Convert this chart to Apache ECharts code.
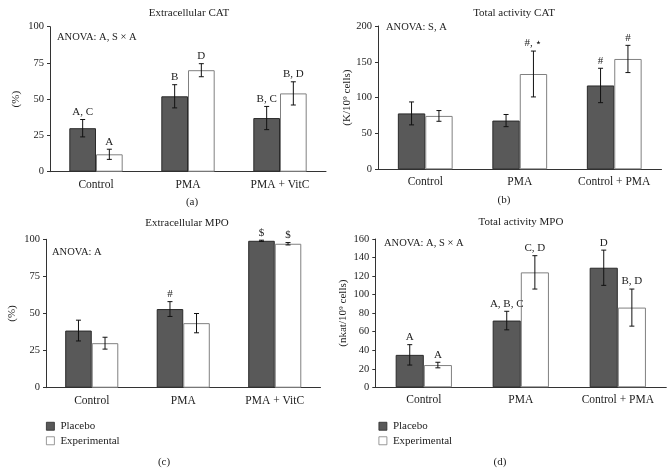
<!DOCTYPE html>
<html><head><meta charset="utf-8">
<script src="https://cdn.jsdelivr.net/npm/echarts@6/dist/echarts.min.js"></script>
<style>html,body{margin:0;padding:0;background:#fff}#c{width:672px;height:473px}</style>
</head><body><div id="c"></div>
<script>
// ---- data ----
const catsA = ['Control', 'PMA', 'PMA + VitC'];
const placeboA = [30, 52, 37];
const placeboErrA = [6, 8, 8];
const placeboLblA = ['A, C', 'B', 'B, C'];
const expA = [12, 70, 54];
const expErrA = [3.5, 4.5, 8];
const expLblA = ['A', 'D', 'B, D'];

const catsB = ['Control', 'PMA', 'Control + PMA'];
const placeboB = [78, 68, 117];
const placeboErrB = [16, 8.5, 24];
const placeboLblB = ['', '', '#'];
const expB = [74.5, 133, 154];
const expErrB = [7.5, 32, 19];
const expLblB = ['', '#, \u22C6', '#'];

const catsC = ['Control', 'PMA', 'PMA + VitC'];
const placeboC = [38.5, 53, 99];
const placeboErrC = [7, 5, 0.4];
const placeboLblC = ['', '#', '$'];
const expC = [30, 43.5, 97];
const expErrC = [4, 6.5, 0.8];
const expLblC = ['', '', '$'];

const catsD = ['Control', 'PMA', 'Control + PMA'];
const placeboD = [35, 72, 129];
const placeboErrD = [11, 10, 19];
const placeboLblD = ['A', 'A, B, C', 'D'];
const expD = [24, 124, 86];
const expErrD = [3, 18, 20];
const expLblD = ['A', 'C, D', 'B, D'];

const yTicksA = [0, 25, 50, 75, 100];
const yTicksB = [0, 50, 100, 150, 200];
const yTicksC = [0, 25, 50, 75, 100];
const yTicksD = [0, 20, 40, 60, 80, 100, 120, 140, 160];

// ---- styling ----
const FONT = 'Liberation Serif';
const TXT = '#222';
const BW = 0.29;
const panels = [
  {cats: catsA, p: placeboA, pe: placeboErrA, pl: placeboLblA, e: expA, ee: expErrA, el: expLblA, ticks: yTicksA,
   grid: {left: 50, top: 26.7, width: 276, height: 145}, name: '(%)', gap: 28},
  {cats: catsB, p: placeboB, pe: placeboErrB, pl: placeboLblB, e: expB, ee: expErrB, el: expLblB, ticks: yTicksB,
   grid: {left: 378, top: 26, width: 283.5, height: 143.3}, name: '(K/10\u2079 cells)', gap: 22},
  {cats: catsC, p: placeboC, pe: placeboErrC, pl: placeboLblC, e: expC, ee: expErrC, el: expLblC, ticks: yTicksC,
   grid: {left: 46, top: 239.3, width: 274.5, height: 148.4}, name: '(%)', gap: 28},
  {cats: catsD, p: placeboD, pe: placeboErrD, pl: placeboLblD, e: expD, ee: expErrD, el: expLblD, ticks: yTicksD,
   grid: {left: 375.3, top: 239, width: 291, height: 148.3}, name: '(nkat/10\u2079 cells)', gap: 27}
];

const grids = [], xAxes = [], yAxes = [], series = [];
function errSeries(i, vals, errs, lbls, side) {
  return {
    type: 'custom', xAxisIndex: i, yAxisIndex: i, z: 5, silent: true,
    data: vals.map((v, k) => [k, v, errs[k]]),
    renderItem: function (params, api) {
      const ci = api.value(0), v = api.value(1), e = api.value(2);
      const band = api.size([1, 0])[0];
      const bw = band * BW;
      const x = api.coord([ci, v])[0] + side * bw / 2;
      const yt = api.coord([ci, v + e])[1];
      const yb = api.coord([ci, v - e])[1];
      const st = {stroke: '#111', lineWidth: 1};
      const children = [
        {type: 'line', shape: {x1: x, y1: yt, x2: x, y2: yb}, style: st},
        {type: 'line', shape: {x1: x - 2.5, y1: yt, x2: x + 2.5, y2: yt}, style: st},
        {type: 'line', shape: {x1: x - 2.5, y1: yb, x2: x + 2.5, y2: yb}, style: st}
      ];
      const lbl = lbls[params.dataIndex];
      if (lbl) {
        children.push({type: 'text', style: {text: lbl, x: x, y: yt - 2, align: 'center', verticalAlign: 'bottom',
          font: '11px "' + FONT + '"', fill: TXT}});
      }
      return {type: 'group', children: children};
    }
  };
}
panels.forEach((P, i) => {
  grids.push(Object.assign({containLabel: false}, P.grid));
  xAxes.push({
    type: 'category', gridIndex: i, data: P.cats,
    axisLine: {lineStyle: {color: '#333', width: 1}},
    axisTick: {show: false},
    axisLabel: {color: TXT, fontFamily: FONT, fontSize: 11.5, margin: 7}
  });
  yAxes.push({
    type: 'value', gridIndex: i, min: P.ticks[0], max: P.ticks[P.ticks.length - 1],
    interval: P.ticks[1] - P.ticks[0],
    axisLine: {show: true, lineStyle: {color: '#333', width: 1}},
    axisTick: {show: true, length: 3, lineStyle: {color: '#333'}},
    splitLine: {show: false},
    axisLabel: {color: TXT, fontFamily: FONT, fontSize: 10.5, margin: 6},
    name: P.name, nameLocation: 'middle', nameGap: P.gap, nameRotate: 90,
    nameTextStyle: {color: TXT, fontFamily: FONT, fontSize: 11}
  });
  series.push({
    name: 'Placebo', type: 'bar', xAxisIndex: i, yAxisIndex: i, data: P.p,
    barWidth: (BW * 100) + '%', barGap: '0%',
    itemStyle: {color: '#595959', borderColor: '#2a2a2a', borderWidth: 1}
  });
  series.push({
    name: 'Experimental', type: 'bar', xAxisIndex: i, yAxisIndex: i, data: P.e,
    barWidth: (BW * 100) + '%', barGap: '0%',
    itemStyle: {color: '#ffffff', borderColor: '#808080', borderWidth: 1}
  });
  series.push(errSeries(i, P.p, P.pe, P.pl, -1));
  series.push(errSeries(i, P.e, P.ee, P.el, 1));
});

function txt(t, x, y, size, align) {
  return {type: 'text', x: x, y: y, style: {text: t, align: align || 'center', verticalAlign: 'middle',
    font: size + 'px "' + FONT + '"', fill: TXT}};
}
const graphics = [
  txt('Extracellular CAT', 189, 13.5, 11),
  txt('Total activity CAT', 514, 13, 11),
  txt('Extracellular MPO', 187, 223, 11),
  txt('Total activity MPO', 521, 222, 11),
  txt('(a)', 192, 202, 11),
  txt('(b)', 504, 200, 11),
  txt('(c)', 164, 462, 11),
  txt('(d)', 500, 462, 11),
  txt('ANOVA: A, S \u00D7 A', 57, 37, 10.5, 'left'),
  txt('ANOVA: S, A', 386, 27, 10.5, 'left'),
  txt('ANOVA: A', 52, 252, 10.5, 'left'),
  txt('ANOVA: A, S \u00D7 A', 384, 243, 10.5, 'left')
];

const legendBase = {
  orient: 'vertical', icon: 'rect', itemWidth: 8, itemHeight: 8, itemGap: 0, padding: 0,
  data: ['Placebo', 'Experimental'], selectedMode: false,
  itemStyle: {borderWidth: 0.8},
  textStyle: {color: TXT, fontFamily: FONT, fontSize: 11, lineHeight: 14.5, padding: [0, 0, 0, 1]}
};
const chart = echarts.init(document.getElementById('c'), null, {renderer: 'canvas'});
chart.setOption({
  animation: false,
  backgroundColor: '#fff',
  grid: grids, xAxis: xAxes, yAxis: yAxes, series: series,
  legend: [
    Object.assign({left: 46, top: 419}, legendBase),
    Object.assign({left: 378.5, top: 419}, legendBase)
  ],
  graphic: graphics
});
</script></body></html>
